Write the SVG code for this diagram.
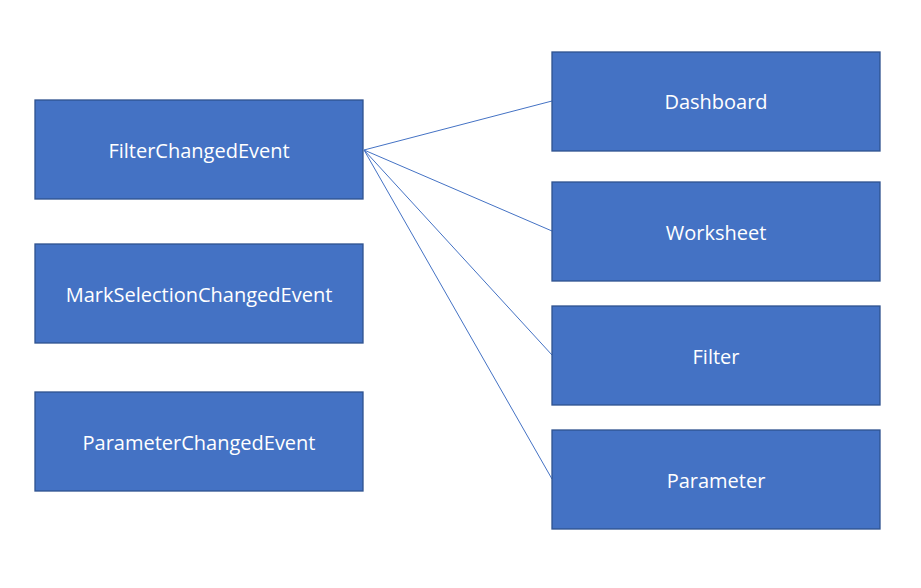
<svg xmlns="http://www.w3.org/2000/svg" width="921" height="588" viewBox="0 0 921 588">
<style>
.box{fill:#4472C4;stroke:#2F528F;stroke-width:1.3}
.lbl{font-family:"Open Sans","Liberation Sans",sans-serif;font-size:20px;fill:#FFFFFF;text-anchor:middle;dominant-baseline:central}
.conn{stroke:#4472C4;stroke-width:1;fill:none}
</style>
<rect width="921" height="588" fill="#FFFFFF"/>
<g id="connectors">
<line class="conn" x1="364" y1="150" x2="552" y2="101"/>
<line class="conn" x1="364" y1="150" x2="552" y2="231"/>
<line class="conn" x1="364" y1="150" x2="552" y2="355"/>
<line class="conn" x1="364" y1="150" x2="552" y2="479"/>
</g>
<g id="FilterChangedEvent"><rect class="box" x="35" y="100" width="328" height="99"/><text class="lbl" x="199" y="150">FilterChangedEvent</text></g>
<g id="MarkSelectionChangedEvent"><rect class="box" x="35" y="244" width="328" height="99"/><text class="lbl" x="199" y="294">MarkSelectionChangedEvent</text></g>
<g id="ParameterChangedEvent"><rect class="box" x="35" y="392" width="328" height="99"/><text class="lbl" x="199" y="442">ParameterChangedEvent</text></g>
<g id="Dashboard"><rect class="box" x="552" y="52" width="328" height="99"/><text class="lbl" x="716" y="101">Dashboard</text></g>
<g id="Worksheet"><rect class="box" x="552" y="182" width="328" height="99"/><text class="lbl" x="716" y="232">Worksheet</text></g>
<g id="Filter"><rect class="box" x="552" y="306" width="328" height="99"/><text class="lbl" x="716" y="356">Filter</text></g>
<g id="Parameter"><rect class="box" x="552" y="430" width="328" height="99"/><text class="lbl" x="716" y="480">Parameter</text></g>
</svg>
